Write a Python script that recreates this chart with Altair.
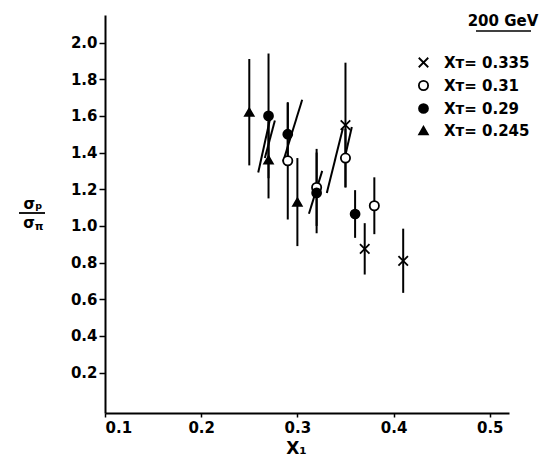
import altair as alt
import pandas as pd

# ---- data ----
series = ["Xᴛ= 0.335", "Xᴛ= 0.31", "Xᴛ= 0.29", "Xᴛ= 0.245"]

x335 = [0.35, 0.37, 0.41]
y335 = [1.55, 0.875, 0.81]
e335 = [0.34, 0.14, 0.175]

x31 = [0.29, 0.32, 0.35, 0.38]
y31 = [1.355, 1.21, 1.37, 1.11]
e31 = [0.32, 0.21, 0.16, 0.155]

x29 = [0.27, 0.29, 0.32, 0.36]
y29 = [1.60, 1.50, 1.18, 1.065]
e29 = [0.34, 0.17, 0.22, 0.13]

x245 = [0.25, 0.27, 0.30]
y245 = [1.62, 1.36, 1.13]
e245 = [0.29, 0.21, 0.24]

# slanted line segments
seg_x1 = [0.2593, 0.2662, 0.2852, 0.312, 0.3306, 0.3504]
seg_y1 = [1.291, 1.370, 1.351, 1.066, 1.179, 1.397]
seg_x2 = [0.2714, 0.2766, 0.305, 0.3258, 0.3473, 0.3566]
seg_y2 = [1.579, 1.575, 1.688, 1.30, 1.533, 1.539]

x_ticks = [0.1, 0.2, 0.3, 0.4, 0.5]
y_ticks = [0.2, 0.4, 0.6, 0.8, 1.0, 1.2, 1.4, 1.6, 1.8, 2.0]

rows = []
for name, xs, ys, es in [(series[0], x335, y335, e335), (series[1], x31, y31, e31),
                         (series[2], x29, y29, e29), (series[3], x245, y245, e245)]:
    for x, y, e in zip(xs, ys, es):
        rows.append({"series": name, "x": x, "y": y, "lo": y - e, "hi": y + e})
df = pd.DataFrame(rows)
seg = pd.DataFrame({"x1": seg_x1, "y1": seg_y1, "x2": seg_x2, "y2": seg_y2})

FONT = "DejaVu Sans"
xs = alt.Scale(domain=[0.1, 0.52], nice=False, zero=False)
ys = alt.Scale(domain=[-0.02, 2.15], nice=False, zero=False)

X = alt.X("x:Q", scale=xs, axis=alt.Axis(
    values=x_ticks, format=".1f", grid=False, title="X₁", domainWidth=2, domainColor="black",
    tickColor="black", tickSize=4, tickWidth=1.5, labelFont=FONT, labelFontSize=15,
    labelFontWeight="bold", labelColor="black", labelPadding=3, titleFont=FONT,
    titleFontSize=17, titleFontWeight="bold", titleColor="black", titleX=191, titleY=35,
    titleBaseline="middle"))
Y = alt.Y("y:Q", scale=ys, axis=alt.Axis(
    values=y_ticks, format=".1f", grid=False, title=None, domainWidth=2, domainColor="black",
    tickColor="black", tickSize=6, tickWidth=1.5, labelFont=FONT, labelFontSize=15,
    labelFontWeight="bold", labelColor="black", labelPadding=2))

bars = alt.Chart(df).mark_rule(color="black", strokeWidth=2).encode(
    x=alt.X("x:Q", scale=xs), y=alt.Y("lo:Q", scale=ys), y2="hi:Q")

segs = alt.Chart(seg).mark_rule(color="black", strokeWidth=2).encode(
    x=alt.X("x1:Q", scale=xs), y=alt.Y("y1:Q", scale=ys), x2="x2:Q", y2="y2:Q")

xpath = "M-1,-1L1,1M-1,1L1,-1"
pts = alt.Chart(df).mark_point(stroke="black", strokeWidth=1.8, opacity=1, filled=False).encode(
    x=X, y=Y,
    shape=alt.Shape("series:N", scale=alt.Scale(domain=series, range=[xpath, "circle", "circle", "triangle-up"]),
                    legend=alt.Legend(title=None, orient="none", legendX=311, legendY=40,
                                      labelFont=FONT, labelFontSize=15, labelFontWeight="bold",
                                      labelColor="black", rowPadding=6, symbolStrokeColor="black",
                                      symbolStrokeWidth=1.8, labelOffset=13)),
    fill=alt.Fill("series:N", scale=alt.Scale(domain=series, range=["transparent", "white", "black", "black"])),
    size=alt.Size("series:N", scale=alt.Scale(domain=series, range=[90, 75, 75, 120])),
)

one = pd.DataFrame({"a": [0]})
title = alt.Chart(one).mark_text(font=FONT, fontSize=15, fontWeight="bold", color="black").encode(
    x=alt.value(398), y=alt.value(6), text=alt.value("200 GeV"))
uline = alt.Chart(one).mark_rule(color="black", strokeWidth=1.5).encode(
    x=alt.value(371), x2=alt.value(426), y=alt.value(16))
num = alt.Chart(one).mark_text(font=FONT, fontSize=15, fontWeight="bold", color="black",
                               baseline="alphabetic").encode(
    x=alt.value(-72), y=alt.value(194), text=alt.value("σₚ"))
frac = alt.Chart(one).mark_rule(color="black", strokeWidth=1.8).encode(
    x=alt.value(-86), x2=alt.value(-60), y=alt.value(198))
den1 = alt.Chart(one).mark_text(font=FONT, fontSize=15, fontWeight="bold", color="black",
                                baseline="top").encode(
    x=alt.value(-76), y=alt.value(201), text=alt.value("σ"))
den2 = alt.Chart(one).mark_text(font=FONT, fontSize=11, fontWeight="bold", color="black",
                                baseline="top").encode(
    x=alt.value(-66), y=alt.value(206), text=alt.value("π"))

chart = alt.layer(bars, segs, pts, title, uline, num, frac, den1, den2).properties(
    width=404, height=398,
    autosize=alt.AutoSizeParams(type="none"),
    padding={"left": 97, "top": 7, "right": 32, "bottom": 43},
).configure_view(stroke=None).configure_axisX(domainColor="black").configure_axisY(domainColor="black")

chart.save("out.html", embed_options={"renderer": "svg", "actions": False})
